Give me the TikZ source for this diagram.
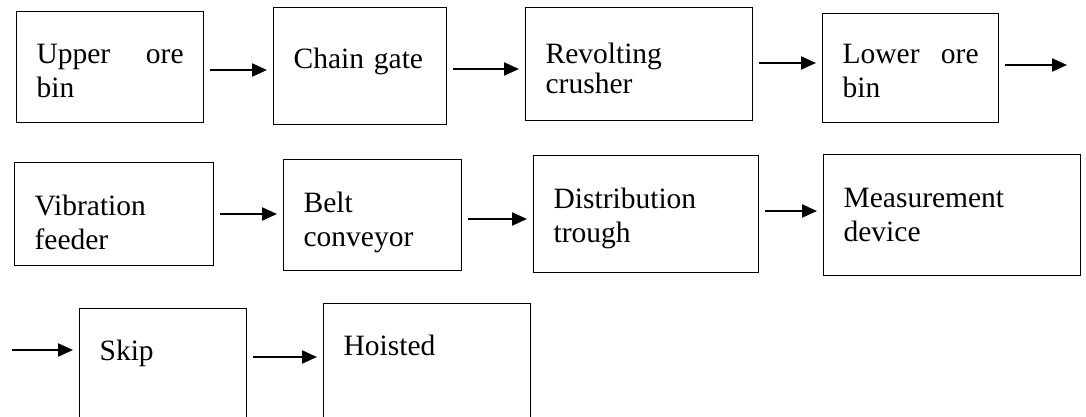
\documentclass[tikz,border=0pt]{standalone}
\usepackage{fontspec}
\setmainfont{Liberation Serif}
\usetikzlibrary{arrows.meta}

\tikzset{
  % box: text width, first baseline below top edge, space under it
  blk/.style n args={3}{
    draw, line width=0.6pt, anchor=north west,
    inner xsep=10pt, inner ysep=0pt, align=left,
    font=\fontsize{14.75}{17}\selectfont,
    text width=#1, text height=#2, text depth=#3},
  flow/.style={-{Triangle[length=7.5pt,width=6.5pt]}, line width=1.1pt,
    shorten <=2.75pt, shorten >=3pt},
}

\begin{document}
\begin{tikzpicture}[x=0.5pt, y=-0.5pt]
  \useasboundingbox (0,0) rectangle (1086,417);
  \clip (0,0) rectangle (1086,417);

  % first row
  \node[blk={73.5pt}{26pt}{29.5pt}]   (ubin)    at (16,11)  {Upper\hfill ore\\bin};
  \node[blk={66.5pt}{30.5pt}{28pt}]   (cgate)   at (273,7)  {Chain gate};
  \node[blk={93.5pt}{28pt}{28.5pt}]   (crusher) at (525,7)  {Revolting\\[-2pt]crusher};
  \node[blk={68pt}{25pt}{29.5pt}]     (lbin)    at (822,13) {Lower\hfill ore\\bin};

  % second row
  \node[blk={79.5pt}{26.5pt}{25pt}]   (vfeed)   at (14,162)  {Vibration\\feeder};
  \node[blk={69pt}{26.5pt}{29pt}]     (belt)    at (283,159) {Belt\\conveyor};
  \node[blk={92.5pt}{26.5pt}{32pt}]   (trough)  at (533,155) {Distribution\\trough};
  \node[blk={108.5pt}{26.5pt}{34pt}]  (meas)    at (823,154) {Measurement\\device};

  % third row, boxes run off the bottom
  \node[blk={63.5pt}{26pt}{35pt}]     (skip)    at (79,308)  {Skip};
  \node[blk={83.5pt}{26pt}{37.5pt}]   (hoist)   at (323,303) {Hoisted};

  % loose ends where a row wraps
  \coordinate (rowend) at (1073,65);
  \coordinate (rowstart) at (6.5,350);

  \draw[flow] (ubin.east |- 0,70) -- (cgate.west |- 0,70);
  \draw[flow] (cgate.east |- 0,69) -- (crusher.west |- 0,69);
  \draw[flow] (crusher.east |- 0,63) -- (lbin.west |- 0,63);
  \draw[flow] (lbin.east |- rowend) -- (rowend);

  \draw[flow] (vfeed.east |- 0,214) -- (belt.west |- 0,214);
  \draw[flow] (belt.east |- 0,219) -- (trough.west |- 0,219);
  \draw[flow] (trough.east |- 0,211) -- (meas.west |- 0,211);

  \draw[flow] (rowstart) -- (skip.west |- rowstart);
  \draw[flow] (skip.east |- 0,357) -- (hoist.west |- 0,357);
\end{tikzpicture}
\end{document}
